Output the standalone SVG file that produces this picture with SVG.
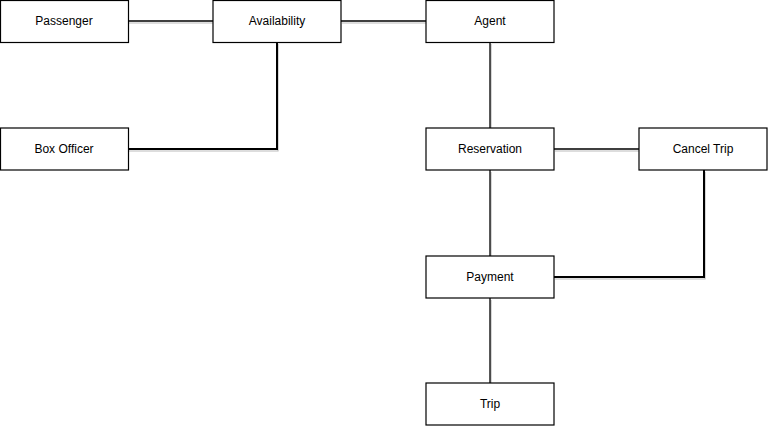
<svg xmlns="http://www.w3.org/2000/svg" width="768" height="427" viewBox="0 0 768 427">
<style>
.n rect{fill:#fff;stroke:#000;stroke-width:1.2}
.n text{font-family:"Liberation Sans",Arial,sans-serif;font-size:12px;text-anchor:middle;fill:#000}
.c path{fill:none}
.s{stroke:#bbb;stroke-width:1.2}
.l{stroke:#000;stroke-width:1.3}
</style>
<rect width="768" height="427" fill="#fff"/>
<g class="c">
<g transform="translate(1,2)" class="s">
<path d="M128 21H213M341 21H426M277 42V149H128M490 42V128M554 149H639M490 170V256M490 298V383M554 277H704V170"/>
</g>
<g class="l">
<path d="M128 21H213M341 21H426M490 42V128M554 149H639M490 170V256M490 298V383"/>
<path d="M277 42V149H128M554 277H704V170" stroke-width="2"/>
</g>
</g>
<g id="passenger" class="n"><rect x="0.5" y="0.5" width="128" height="42"/><text x="64" y="25">Passenger</text></g>
<g id="availability" class="n"><rect x="213" y="0.5" width="128" height="42"/><text x="277" y="25">Availability</text></g>
<g id="agent" class="n"><rect x="426" y="0.5" width="128" height="42"/><text x="490" y="25">Agent</text></g>
<g id="boxofficer" class="n"><rect x="0.5" y="128" width="128" height="42"/><text x="64" y="153">Box Officer</text></g>
<g id="reservation" class="n"><rect x="426" y="128" width="128" height="42"/><text x="490" y="153">Reservation</text></g>
<g id="canceltrip" class="n"><rect x="639" y="128" width="128" height="42"/><text x="703" y="153">Cancel Trip</text></g>
<g id="payment" class="n"><rect x="426" y="256" width="128" height="42"/><text x="490" y="281">Payment</text></g>
<g id="trip" class="n"><rect x="426" y="383" width="128" height="42"/><text x="490" y="408">Trip</text></g>
</svg>
